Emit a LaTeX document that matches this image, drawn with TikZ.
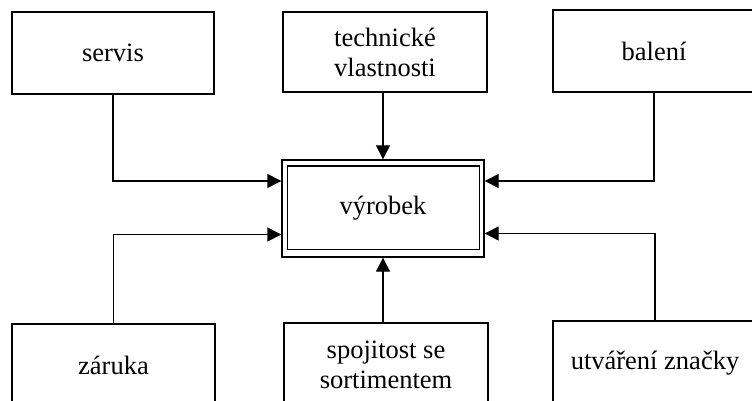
\documentclass[tikz,border=0pt]{standalone}
\usepackage{fontspec}
\setmainfont{Liberation Serif}
\usetikzlibrary{arrows.meta}
\tikzset{
  boxnode/.style={draw, line width=1.4pt, align=center, inner sep=0pt,
    font=\fontsize{26.5}{30}\selectfont},
  arr/.style={line width=1.4pt, -{Triangle[length=14pt,width=14pt]}},
}
\begin{document}
\begin{tikzpicture}[x=1pt,y=-1pt]
\useasboundingbox (0,0) rectangle (752,401);
\clip (0,0) rectangle (752,401);
\fill[white] (0,0) rectangle (752,401);
% top row
\node[boxnode, minimum width=202pt, minimum height=82pt] (servis) at (113,53) {servis};
\node[boxnode, minimum width=204pt, minimum height=80pt] (tech) at (385,52) {technické\\vlastnosti};
\node[boxnode, minimum width=202pt, minimum height=82pt] (baleni) at (654,51) {balení};
% centre
\node[boxnode, minimum width=202pt, minimum height=97pt] (vyrobek) at (383,208.5) {výrobek};
\draw[line width=1.4pt] ([xshift=6pt,yshift=-6.5pt]vyrobek.north west) rectangle ([xshift=-5.5pt,yshift=8.5pt]vyrobek.south east);
% bottom row
\node[boxnode, minimum width=203pt, minimum height=82pt] (zaruka) at (113.5,365) {záruka};
\node[boxnode, minimum width=204pt, minimum height=84pt] (spoj) at (386,365) {spojitost se\\sortimentem};
\node[boxnode, minimum width=204pt, minimum height=84pt] (utvareni) at (655,363) {utváření značky};
% connectors
\draw[arr] (servis.south) |- ([yshift=27.5pt]vyrobek.west);
\draw[arr] (zaruka.north) |- ([yshift=-26pt]vyrobek.west);
\draw[arr] (baleni.south) |- ([yshift=27.5pt]vyrobek.east);
\draw[arr] (utvareni.north) |- ([yshift=-25pt]vyrobek.east);
\draw[arr] (tech.south -| vyrobek.north) -- (vyrobek.north);
\draw[arr] (spoj.north -| vyrobek.south) -- (vyrobek.south);
\end{tikzpicture}
\end{document}
